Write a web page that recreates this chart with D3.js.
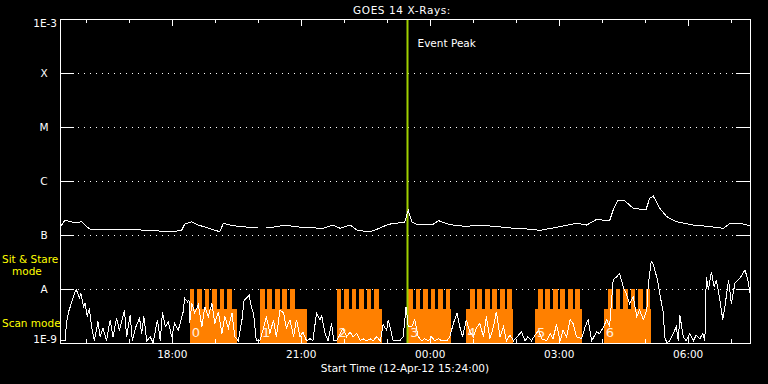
<!DOCTYPE html>
<html>
<head>
<meta charset="utf-8">
<script src="https://cdn.jsdelivr.net/npm/d3@7"></script>
<style>
  body { margin: 0; background: #000; }
  text { font-family: "DejaVu Sans", sans-serif; font-size: 10.5px; fill: #fff; }
  .axis text { fill: #fff; font-size: 10.5px; font-family: "DejaVu Sans", sans-serif; }
  .axis line { stroke: #fff; shape-rendering: crispEdges; }
  .axis path { display: none; }
</style>
</head>
<body>
<div id="chart"></div>
<script>
// GOES 14 X-ray flux, times in minutes after 12-Apr-12 15:24:00
var endMinute = 963;
var eventPeak = 485;

// long channel (1-8 A), flux in units of 1e-7 W/m2 (null = data gap)
var longT = [1, 7, 14, 23, 30, 37, 42, 65, 88, 112, 135, 158, 170, 174, 184, 193, 205, 223, 228, 237, 251, 274, 276,
  281, 288, 298, 316, 326, 344, 367, 381, 391, 405, 414, 428, 437, 456, 465, 481, 486, 491, 498, 521, 528, 544, 565,
  586, 607, 628, 649, 670, 698, 721, 735, 749, 767, 772, 779, 788, 800, 811, 818, 823, 828, 837, 847, 860, 884, 907,
  926, 935, 949, 963];
var longV = [1.43, 1.90, 1.76, 1.69, 1.76, 1.43, 1.28, 1.29, 1.28, 1.24, 1.19, 1.15, 1.24, 1.58, 1.76, 1.53, 1.37, 1.15,
  1.65, 1.53, 1.43, 1.37, 1.37, null, 1.37, 1.40, 1.53, 1.43, 1.37, 1.33, 1.53, 1.33, 1.53, 1.24, 1.15, 1.19, 1.53, 1.65,
  1.69, 2.9, 1.76, 1.58, 1.58, 1.85, 1.55, 1.45, 1.5, 1.45, 1.35, 1.3, 1.22, 1.43, 1.65, 1.53, 1.95, 1.82, 2.9, 4.45,
  4.32, 3.12, 2.99, 2.99, 4.78, 5.27, 3.12, 2.18, 1.76, 1.53, 1.43, 1.33, 1.65, 1.65, 1.49];

// short channel (0.5-4 A), flux in units of 1e-9 W/m2
var shortT = [1, 7, 9, 12, 16, 21, 23, 27, 29, 33, 35, 38, 41, 44, 48, 53, 56, 60, 65, 70, 74, 79, 83, 90, 93, 98, 101,
  106, 111, 114, 117, 121, 126, 130, 136, 140, 143, 147, 151, 156, 160, 165, 169, 172, 174, 178, 180, 181, 184, 188,
  193, 198, 202, 207, 212, 216, 221, 226, 230, 235, 240, 244, 249, 254, 257, 260, 264, 267, 270, 274, 279, 284, 288,
  293, 298, 302, 307, 312, 316, 321, 326, 330, 335, 339, 344, 349, 353, 358, 363, 365, 370, 374, 379, 382, 386, 391,
  395, 400, 405, 409, 414, 419, 423, 428, 433, 437, 442, 447, 451, 456, 458, 461, 465, 470, 474, 479, 483, 486, 491,
  495, 500, 505, 509, 514, 519, 523, 528, 533, 540, 544, 549, 554, 558, 562, 567, 572, 577, 581, 586, 591, 595, 600,
  605, 609, 614, 619, 623, 628, 633, 640, 644, 649, 653, 658, 663, 668, 672, 679, 684, 688, 693, 698, 702, 707, 712,
  716, 721, 728, 733, 737, 742, 749, 753, 758, 763, 767, 772, 777, 781, 786, 791, 795, 800, 805, 809, 814, 819, 821,
  825, 828, 830, 834, 837, 842, 844, 847, 851, 856, 860, 863, 865, 870, 874, 879, 884, 888, 893, 897, 900, 902, 905,
  909, 913, 916, 921, 925, 928, 933, 937, 942, 949, 956, 960, 963];
var shortV = [1.1, 1.1, 2.3, 3.8, 5.5, 8.9, 9.6, 6.8, 8.4, 4.7, 5.5, 3.1, 4.4, 2.0, 1.1, 2.5, 1.3, 1.9, 1.1, 2.7, 1.3,
  2.9, 1.7, 4.0, 1.3, 3.3, 1.1, 2.0, 2.9, 1.5, 3.1, 1.1, 1.3, 1.0, 2.7, 1.1, 3.8, 2.0, 2.5, 1.3, 2.3, 1.7, 2.7, 3.8,
  6.7, 5.8, 6.3, 2.3, 5.5, 3.6, 5.1, 2.0, 4.7, 3.1, 5.4, 2.3, 3.8, 1.5, 3.1, 1.9, 3.6, 1.3, 1.1, 2.7, 6.3, 6.7, 7.7,
  4.7, 3.6, 1.1, 1.1, 1.9, 3.1, 1.5, 2.7, 1.3, 4.1, 3.6, 1.9, 2.7, 1.3, 2.7, 1.3, 1.6, 1.1, 1.2, 1.1, 3.6, 2.7, 3.3,
  1.5, 1.1, 2.3, 1.1, 1.1, 1.5, 1.9, 1.3, 1.6, 1.3, 1.5, 1.1, 1.2, 1.1, 1.2, 1.1, 1.3, 1.1, 2.2, 1.7, 2.7, 1.9, 1.1,
  1.1, 1.1, 1.3, 4.7, 2.0, 2.0, 2.7, 1.3, 1.1, 1.2, 1.1, 1.3, 1.1, 1.2, 1.1, 1.1, 1.3, 2.3, 3.6, 2.0, 1.3, 2.7, 1.6,
  1.3, 1.9, 2.3, 1.3, 3.1, 1.2, 2.0, 3.8, 1.3, 2.0, 1.1, 1.4, 1.1, 1.4, 1.6, 1.1, 1.3, 1.1, 1.4, 1.7, 1.2, 1.1, 1.5,
  1.2, 2.2, 1.1, 1.7, 1.3, 2.7, 2.3, 1.3, 1.2, 2.0, 2.7, 1.1, 1.6, 1.5, 1.9, 2.7, 2.0, 14.7, 16.9, 19.5, 11, 7.7, 5.4,
  7.2, 3.1, 4.1, 2.7, 4.1, 11.8, 32, 29, 22.5, 14.7, 8.3, 3.6, 1.3, 1.0, 1.1, 1.5, 2.0, 1.1, 3.3, 1.3, 1.1, 1.5, 1.1,
  1.4, 1.2, 1.5, 1.1, 16.9, 9.6, 20.9, 11, 14.7, 6.3, 2.7, 4.7, 14.7, 5.4, 12.8, 15.8, 22.5, 14.7, 8.3];

// scan mode intervals (minutes) and their comb of rasters
var scanStart = [181, 279, 386, 486, 566, 663, 759];
var scanEnd = [247, 345, 449, 546, 632, 728, 825];
var combStart = [181, 279, 386, 486, 572, 667, 765];
var combTeeth = [6, 5, 6, 6, 6, 6, 6];
var scanLabels = ["0", "1", "2", "3", "4", "5", "6"];

var levelValues = [1e-9, 1e-8, 1e-7, 1e-6, 1e-5, 1e-4, 1e-3];
var levelLabels = ["1E-9", "A", "B", "C", "M", "X", "1E-3"];

var svgWidth = 768, svgHeight = 384;
var margin = {top: 19, right: 18, bottom: 41, left: 60};
var width = svgWidth - margin.left - margin.right;
var height = svgHeight - margin.top - margin.bottom;

var startTime = new Date(2012, 3, 12, 15, 24, 0);
function toDate(m) { return new Date(startTime.getTime() + m * 60000); }

var svg = d3.select("#chart").append("svg")
  .attr("width", svgWidth).attr("height", svgHeight)
  .style("background", "#000");

var chartGroup = svg.append("g")
  .attr("transform", `translate(${margin.left}, ${margin.top})`);

var xScale = d3.scaleTime().domain([toDate(0), toDate(endMinute)]).range([0, width]);
var yScale = d3.scaleLog().domain([1e-9, 1e-3]).range([height, 0]).clamp(true);

// dotted level lines
chartGroup.selectAll(".grid")
  .data(levelValues.slice(1, 6))
  .enter().append("line")
  .attr("x1", 18).attr("x2", width - 14)
  .attr("y1", d => yScale(d)).attr("y2", d => yScale(d))
  .attr("stroke", "#fff").attr("stroke-dasharray", "1,5")
  .attr("shape-rendering", "crispEdges");

// scan mode blocks
var toothMin = 6.6, toothPeriod = 10.47;
var combTop = yScale(1e-8), solidTop = yScale(1e-8) + 20;
scanStart.forEach(function(s, i) {
  chartGroup.append("rect")
    .attr("x", xScale(toDate(s))).attr("y", solidTop)
    .attr("width", xScale(toDate(scanEnd[i])) - xScale(toDate(s)))
    .attr("height", height - solidTop)
    .attr("fill", "#ff8000").attr("shape-rendering", "crispEdges");
  for (var k = 0; k < combTeeth[i]; k++) {
    var t0 = combStart[i] + k * toothPeriod;
    chartGroup.append("rect")
      .attr("x", xScale(toDate(t0))).attr("y", combTop)
      .attr("width", xScale(toDate(t0 + toothMin)) - xScale(toDate(t0)))
      .attr("height", solidTop - combTop + 1)
      .attr("fill", "#ff8000").attr("shape-rendering", "crispEdges");
  }
});

// event peak marker
chartGroup.append("line")
  .attr("x1", xScale(toDate(eventPeak))).attr("x2", xScale(toDate(eventPeak)))
  .attr("y1", 0).attr("y2", height)
  .attr("stroke", "#a0d000").attr("stroke-width", 2);

chartGroup.append("text")
  .attr("x", xScale(toDate(eventPeak)) + 10).attr("y", 28)
  .text("Event Peak");

// flux curves
var longData = longT.map((m, i) => ({t: toDate(m), v: longV[i] === null ? null : longV[i] * 1e-7}));
var shortData = shortT.map((m, i) => ({t: toDate(m), v: shortV[i] * 1e-9}));

var line = d3.line()
  .defined(d => d.v !== null)
  .x(d => xScale(d.t))
  .y(d => yScale(d.v));

chartGroup.append("path").datum(longData)
  .attr("d", line).attr("fill", "none").attr("stroke", "#fff")
  .attr("stroke-width", 1).attr("shape-rendering", "crispEdges");

chartGroup.append("path").datum(shortData)
  .attr("d", line).attr("fill", "none").attr("stroke", "#fff")
  .attr("stroke-width", 1).attr("shape-rendering", "crispEdges");

// block numbers
chartGroup.selectAll(".scanlabel")
  .data(scanLabels)
  .enter().append("text")
  .attr("x", (d, i) => xScale(toDate(scanStart[i])) + 2)
  .attr("y", height - 6)
  .style("font-size", "13px")
  .style("fill", "#fff0e0")
  .text(d => d);

// frame
chartGroup.append("rect")
  .attr("width", width).attr("height", height)
  .attr("fill", "none").attr("stroke", "#fff").attr("shape-rendering", "crispEdges");

// time axes
var hourly = d3.timeHour.every(1), threeHourly = d3.timeHour.every(3);
chartGroup.append("g").attr("class", "axis")
  .call(d3.axisTop(xScale).ticks(hourly).tickSize(-4).tickFormat(""));
chartGroup.append("g").attr("class", "axis")
  .call(d3.axisTop(xScale).ticks(threeHourly).tickSize(-7).tickFormat(""));
chartGroup.append("g").attr("class", "axis")
  .attr("transform", `translate(0, ${height})`)
  .call(d3.axisBottom(xScale).ticks(hourly).tickSize(-4).tickFormat(""));
chartGroup.append("g").attr("class", "axis")
  .attr("transform", `translate(0, ${height})`)
  .call(d3.axisBottom(xScale).ticks(threeHourly).tickSize(-7).tickPadding(8)
    .tickFormat(d3.timeFormat("%H:%M")));

// flux axes
chartGroup.append("g").attr("class", "axis")
  .call(d3.axisLeft(yScale).tickValues(levelValues).tickSize(-14).tickFormat(""));
chartGroup.append("g").attr("class", "axis")
  .attr("transform", `translate(${width}, 0)`)
  .call(d3.axisRight(yScale).tickValues(levelValues).tickSize(-14).tickFormat(""));

chartGroup.selectAll(".ylabel")
  .data(levelLabels)
  .enter().append("text")
  .attr("x", d => d.length > 1 ? -3 : -16)
  .attr("y", (d, i) => yScale(levelValues[i]) + (i === 0 ? 0 : i === 6 ? 8 : 4))
  .attr("text-anchor", d => d.length > 1 ? "end" : "middle")
  .text(d => d);

// titles
svg.append("text")
  .attr("x", 402).attr("y", 14)
  .attr("text-anchor", "middle")
  .style("letter-spacing", "0.6px")
  .text("GOES 14 X-Rays:");

svg.append("text")
  .attr("x", 405).attr("y", 372)
  .attr("text-anchor", "middle")
  .text("Start Time (12-Apr-12 15:24:00)");

svg.append("text").attr("x", 2).attr("y", 263).style("fill", "#ffff00").text("Sit & Stare");
svg.append("text").attr("x", 12).attr("y", 275).style("fill", "#ffff00").text("mode");
svg.append("text").attr("x", 2).attr("y", 327).style("fill", "#ffff00").text("Scan mode");
</script>
</body>
</html>
